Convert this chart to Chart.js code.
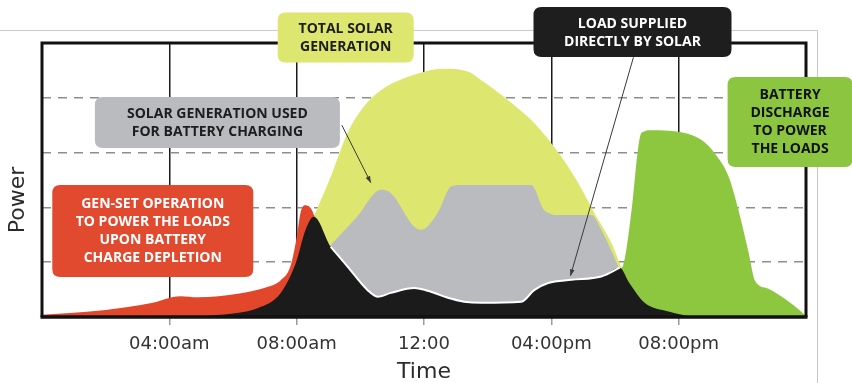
<!DOCTYPE html>
<html>
<head>
<meta charset="utf-8">
<script src="https://cdn.jsdelivr.net/npm/chart.js@4.4.1/dist/chart.umd.min.js"></script>
<style>
  html, body { margin: 0; padding: 0; background: #fff; }
  #wrap { width: 852px; height: 383px; position: relative; }
</style>
</head>
<body>
<div id="wrap"><canvas id="chart"></canvas></div>
<script>
// x axis: hour of the day, y axis: power (relative units)
const tickHours = [0, 4, 8, 12, 16, 20, 24];
const tickLabels = ['', '04:00am', '08:00am', '12:00', '04:00pm', '08:00pm', ''];

// gen-set supplying the loads overnight
const genSetHours = [0, 2.0, 3.4, 4.35, 4.9, 6.2, 7.1, 7.5, 7.8, 8.0, 8.12, 8.25, 8.45, 8.7];
const genSetPower = [0.04, 0.13, 0.25, 0.38, 0.36, 0.43, 0.55, 0.67, 0.92, 1.45, 1.9, 2.04, 1.98, 1.6];

// load supplied directly by solar
const directHours = [5.0, 6.9, 7.5, 7.97, 8.28, 8.54, 9.07, 9.6, 10.23, 10.54, 10.96, 11.69, 12.22, 12.75, 13.26, 13.8, 15.06, 15.46, 15.9, 16.63, 17.57, 18.15, 18.45, 18.93, 19.68, 20.1, 20.5];
const directPower = [0, 0.19, 0.44, 0.98, 1.59, 1.83, 1.28, 0.92, 0.49, 0.37, 0.44, 0.53, 0.46, 0.35, 0.28, 0.26, 0.28, 0.49, 0.62, 0.68, 0.74, 0.9, 0.62, 0.26, 0.1, 0.04, 0];

// solar used for battery charging
const chargeHours = [9.05, 9.9, 10.65, 10.96, 11.69, 11.9, 12.43, 12.85, 13.17, 15.37, 15.78, 16.31, 17.26, 17.57, 18.12];
const chargePower = [1.3, 1.83, 2.32, 2.26, 1.65, 1.59, 1.9, 2.38, 2.41, 2.41, 1.95, 1.86, 1.86, 1.59, 0.9];

// total solar generation
const solarHours = [8.54, 9.07, 9.6, 10.11, 10.65, 11.69, 12.6, 13.38, 13.8, 14.74, 15.46, 16.31, 16.84, 17.35, 17.89, 18.2];
const solarPower = [1.84, 2.56, 3.36, 3.84, 4.14, 4.42, 4.53, 4.48, 4.32, 3.91, 3.54, 2.93, 2.45, 1.9, 1.35, 0.9];

// battery discharging into the loads in the evening
const dischargeHours = [18.14, 18.26, 18.52, 18.72, 18.83, 19.15, 19.99, 20.72, 21.13, 21.57, 21.88, 22.2, 22.4, 22.8, 23.24, 23.6, 24];
const dischargePower = [0.88, 0.95, 1.95, 3.05, 3.36, 3.41, 3.38, 3.23, 2.99, 2.56, 1.95, 1.17, 0.66, 0.52, 0.37, 0.22, 0.02];

const COLORS = {
    solar: '#dde66e',
    charge: '#b9bbbf',
    direct: '#1b1b1b',
    genSet: '#e2462b',
    discharge: '#8dc63f'
};

const toPoints = (xs, ys) => xs.map((x, i) => ({ x: x, y: ys[i] }));

function area(label, xs, ys, color, extra) {
    return Object.assign({
        label: label,
        data: toPoints(xs, ys),
        backgroundColor: color,
        borderColor: color,
        borderWidth: 0,
        pointRadius: 0,
        fill: 'origin',
        cubicInterpolationMode: 'monotone'
    }, extra || {});
}

// white edge where the direct-load area meets the charging area
const edgeIdx = directHours.map((h, i) => i).filter(i => directHours[i] >= 9.0 && directHours[i] <= 18.2);
const edgeHours = edgeIdx.map(i => directHours[i]);
const edgePower = edgeIdx.map(i => directPower[i]);

// callout boxes, anchored at [hour, power] with a pixel size
const callouts = [
    { lines: ['TOTAL SOLAR', 'GENERATION'], at: [9.54, 5.10], w: 136, h: 50, bg: COLORS.solar, fg: '#1d1d1b' },
    { lines: ['SOLAR GENERATION USED', 'FOR BATTERY CHARGING'], at: [5.51, 3.55], w: 245, h: 51, bg: COLORS.charge, fg: '#1d1d1b' },
    { lines: ['LOAD SUPPLIED', 'DIRECTLY BY SOLAR'], at: [18.55, 5.20], w: 198, h: 50, bg: '#1e1e1e', fg: '#ffffff' },
    { lines: ['BATTERY', 'DISCHARGE', 'TO POWER', 'THE LOADS'], at: [23.50, 3.56], w: 125, h: 90, bg: '#8cc540', fg: '#111111' },
    { lines: ['GEN-SET OPERATION', 'TO POWER THE LOADS', 'UPON BATTERY', 'CHARGE DEPLETION'], at: [3.48, 1.57], w: 201, h: 92, bg: '#e14a2e', fg: '#ffffff' }
];

const pointers = [
    { from: [9.42, 3.50], to: [10.33, 2.45] },
    { from: [18.58, 4.74], to: [16.6, 0.75] }
];

function roundRect(c, x, y, w, h, r) {
    c.beginPath();
    c.moveTo(x + r, y);
    c.lineTo(x + w - r, y);
    c.quadraticCurveTo(x + w, y, x + w, y + r);
    c.lineTo(x + w, y + h - r);
    c.quadraticCurveTo(x + w, y + h, x + w - r, y + h);
    c.lineTo(x + r, y + h);
    c.quadraticCurveTo(x, y + h, x, y + h - r);
    c.lineTo(x, y + r);
    c.quadraticCurveTo(x, y, x + r, y);
    c.closePath();
}

const framePlugin = {
    id: 'frame',
    beforeDraw(chart) {
        const c = chart.ctx;
        const area = chart.chartArea;
        c.save();
        c.fillStyle = '#fff';
        c.fillRect(0, 0, chart.width, chart.height);
        // outer figure edge
        c.strokeStyle = '#c9c9c9';
        c.lineWidth = 1;
        c.beginPath();
        c.moveTo(0, area.top - 12.5);
        c.lineTo(area.right + 11.5, area.top - 12.5);
        c.lineTo(area.right + 11.5, chart.height);
        c.stroke();
        c.restore();
    },
    afterDatasetsDraw(chart) {
        const c = chart.ctx;
        const a = chart.chartArea;
        c.save();
        c.strokeStyle = '#111';
        c.lineWidth = 3;
        c.beginPath();
        c.moveTo(a.left, a.bottom);
        c.lineTo(a.left, a.top);
        c.lineTo(a.right, a.top);
        c.lineTo(a.right, a.bottom);
        c.stroke();
        c.lineWidth = 3.5;
        c.beginPath();
        c.moveTo(a.left - 1.5, a.bottom);
        c.lineTo(a.right + 1.5, a.bottom);
        c.stroke();

        // axis titles
        c.fillStyle = '#2b2b2b';
        c.font = '22px "DejaVu Sans"';
        c.textAlign = 'center';
        c.textBaseline = 'middle';
        c.fillText('Time', (a.left + a.right) / 2, a.bottom + 55);
        c.save();
        c.translate(18, (a.top + a.bottom) / 2 + 20);
        c.rotate(-Math.PI / 2);
        c.fillText('Power', 0, 0);
        c.restore();
        c.restore();
    },
    afterDraw(chart) {
        const c = chart.ctx;
        const xs = chart.scales.x;
        const ys = chart.scales.y;
        const px = p => [xs.getPixelForValue(p[0]), ys.getPixelForValue(p[1])];
        c.save();

        pointers.forEach(p => {
            const [x0, y0] = px(p.from);
            const [x1, y1] = px(p.to);
            c.strokeStyle = '#3a3a3a';
            c.fillStyle = '#3a3a3a';
            c.lineWidth = 1;
            c.beginPath();
            c.moveTo(x0, y0);
            c.lineTo(x1, y1);
            c.stroke();
            const ang = Math.atan2(y1 - y0, x1 - x0);
            c.beginPath();
            c.moveTo(x1, y1);
            c.lineTo(x1 - 7 * Math.cos(ang - 0.35), y1 - 7 * Math.sin(ang - 0.35));
            c.lineTo(x1 - 7 * Math.cos(ang + 0.35), y1 - 7 * Math.sin(ang + 0.35));
            c.closePath();
            c.fill();
        });

        callouts.forEach(b => {
            const [cx, cy] = px(b.at);
            roundRect(c, cx - b.w / 2, cy - b.h / 2, b.w, b.h, 8);
            c.fillStyle = b.bg;
            c.fill();
            c.fillStyle = b.fg;
            c.font = 'bold 14px "Open Sans"';
            c.textAlign = 'center';
            c.textBaseline = 'middle';
            const lh = 18;
            const top = cy - (b.lines.length - 1) * lh / 2;
            b.lines.forEach((t, i) => c.fillText(t, cx, top + i * lh + 0.5));
        });
        c.restore();
    }
};

new Chart(document.getElementById('chart'), {
    type: 'line',
    data: {
        datasets: [
            {
                label: 'edge',
                data: toPoints(edgeHours, edgePower),
                borderColor: '#ffffff',
                borderWidth: 2,
                pointRadius: 0,
                fill: false,
                cubicInterpolationMode: 'monotone'
            },
            area('Load supplied directly by solar', directHours, directPower, COLORS.direct),
            area('Gen-set operation', genSetHours, genSetPower, COLORS.genSet),
            area('Solar used for battery charging', chargeHours, chargePower, COLORS.charge),
            area('Battery discharge', dischargeHours, dischargePower, COLORS.discharge),
            area('Total solar generation', solarHours, solarPower, COLORS.solar)
        ]
    },
    options: {
        responsive: true,
        maintainAspectRatio: false,
        animation: false,
        layout: { padding: { top: 43, right: 46, left: 0, bottom: 0 } },
        plugins: {
            legend: { display: false },
            tooltip: { enabled: false }
        },
        scales: {
            x: {
                type: 'linear',
                min: 0,
                max: 24,
                afterBuildTicks: scale => { scale.ticks = tickHours.map(v => ({ value: v })); },
                afterFit: scale => { scale.height = 66; },
                ticks: {
                    maxRotation: 0,
                    autoSkip: false,
                    padding: 9,
                    color: '#333',
                    font: { family: 'DejaVu Sans', size: 18 },
                    callback: (v, i) => tickLabels[i]
                },
                grid: {
                    color: c => (c.tick && (c.tick.value === 0 || c.tick.value === 24)) ? 'rgba(0,0,0,0)' : '#1a1a1a',
                    lineWidth: 1.5,
                    tickLength: 8,
                    tickColor: c => (c.tick && (c.tick.value === 0 || c.tick.value === 24)) ? 'rgba(0,0,0,0)' : '#9a9a9a'
                },
                border: { display: false }
            },
            y: {
                min: 0,
                max: 5,
                afterFit: scale => { scale.width = 42; },
                ticks: { display: false, stepSize: 1 },
                grid: {
                    color: c => (c.tick && (c.tick.value === 0 || c.tick.value === 5)) ? 'rgba(0,0,0,0)' : '#8e8e8e',
                    lineWidth: 1.5,
                    drawTicks: false
                },
                border: { display: false, dash: [9, 7] }
            }
        }
    },
    plugins: [framePlugin]
});
</script>
</body>
</html>
